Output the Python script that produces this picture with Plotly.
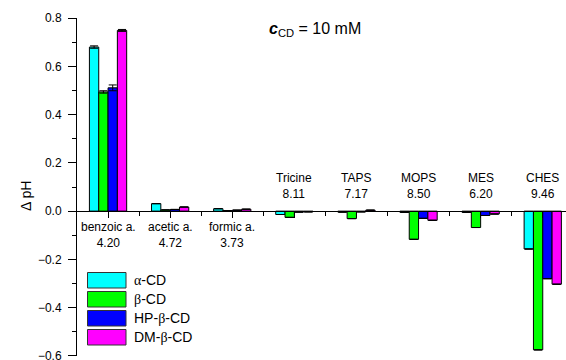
import plotly.graph_objects as go

# Solutes (x categories) with their pKa values
solutes = ["benzoic a.", "acetic a.", "formic a.", "Tricine", "TAPS", "MOPS", "MES", "CHES"]
pka = ["4.20", "4.72", "3.73", "8.11", "7.17", "8.50", "6.20", "9.46"]

# pH shift for each cyclodextrin
alpha_cd = [0.680, 0.031, 0.010, -0.014, -0.004, -0.005, -0.005, -0.157]
beta_cd = [0.494, 0.005, 0.002, -0.026, -0.031, -0.117, -0.068, -0.575]
hp_beta_cd = [0.511, 0.007, 0.004, -0.004, -0.003, -0.030, -0.018, -0.280]
dm_beta_cd = [0.749, 0.017, 0.008, -0.003, 0.004, -0.038, -0.012, -0.303]

# standard deviations (only resolvable for benzoic acid)
alpha_err = [0.005, 0, 0, 0, 0, 0, 0, 0]
beta_err = [0.005, 0, 0, 0, 0, 0, 0, 0]
hp_err = [0.012, 0, 0, 0, 0, 0, 0, 0]
dm_err = [0.004, 0, 0, 0, 0, 0, 0, 0]

series_names = ["α-CD", "β-CD", "HP-β-CD", "DM-β-CD"]
series = [alpha_cd, beta_cd, hp_beta_cd, dm_beta_cd]
errors = [alpha_err, beta_err, hp_err, dm_err]
colors = ["#00FFFF", "#00FF00", "#0000FF", "#FF00FF"]

y_ticks = [-0.6, -0.4, -0.2, 0.0, 0.2, 0.4, 0.6, 0.8]
y_minor = [-0.5, -0.3, -0.1, 0.1, 0.3, 0.5, 0.7]

W, H = 566, 360
ML, MR, MT, MB = 77, 0, 18, 4
PW, PH = W - ML - MR, H - MT - MB
X_PER_CAT = 62.1
x_max = -0.5 + PW / X_PER_CAT
Y_LO, Y_HI = -0.6005, 0.8005

FONT = "Arial, 'Liberation Sans', sans-serif"
SERIF = "'Liberation Serif', 'Times New Roman', serif"


def px(x):
    return (x - ML) / PW


def py(y):
    return (H - MB - y) / PH


def greek(label):
    # Greek letters set in a serif face
    out = ""
    for ch in label:
        if ch in "αβ":
            out += f'<span style="font-family:{SERIF}">{ch}</span>'
        else:
            out += ch
    return out


x_pos = list(range(len(solutes)))

fig = go.Figure()
for name, vals, errs, col in zip(series_names, series, errors, colors):
    fig.add_trace(go.Bar(
        x=x_pos, y=vals, name=name,
        marker=dict(color=col, line=dict(color="black", width=1)),
        error_y=dict(type="data", array=errs, visible=True,
                     color="black", thickness=1, width=4),
        showlegend=False,
    ))

annotations = []
# solute labels: acids below the zero line, buffers above it
for i, (s, k) in enumerate(zip(solutes, pka)):
    below = i < 3
    annotations.append(dict(
        x=i, y=0, xref="x", yref="y",
        text=f"{s}<br>{k}", showarrow=False,
        font=dict(family=FONT, size=12, color="black"),
        yanchor="top" if below else "bottom",
        yshift=-7 if below else 8,
        align="center",
    ))

# concentration label
annotations.append(dict(
    x=px(267), y=py(29), xref="paper", yref="paper",
    xanchor="left", yanchor="middle", showarrow=False,
    text="<i><b>c</b></i><sub>CD</sub> = 10 mM",
    font=dict(family=FONT, size=16, color="black"),
))

# y-axis title
annotations.append(dict(
    x=px(26), y=py(196), xref="paper", yref="paper",
    xanchor="center", yanchor="middle", showarrow=False, textangle=-90,
    text="Δ pH", font=dict(family=FONT, size=14, color="black"),
))

# legend with wide swatches
shapes = []
box_x0, box_x1 = 87.5, 126
box_tops = [272.5, 291.5, 310.5, 329.5]
box_h = 15.5
for name, col, top in zip(series_names, colors, box_tops):
    shapes.append(dict(
        type="rect", xref="paper", yref="paper",
        x0=px(box_x0), x1=px(box_x1), y0=py(top + box_h), y1=py(top),
        fillcolor=col, line=dict(color="#333333", width=1), layer="above",
    ))
    annotations.append(dict(
        x=px(132), y=py(top + box_h / 2), xref="paper", yref="paper",
        xanchor="left", yanchor="middle", showarrow=False,
        text=greek(name), font=dict(family=FONT, size=14, color="black"),
    ))

fig.update_layout(
    width=W, height=H,
    margin=dict(l=ML, r=MR, t=MT, b=MB, pad=0),
    paper_bgcolor="white", plot_bgcolor="white",
    barmode="group", bargap=0.4, bargroupgap=0,
    font=dict(family=FONT, size=12, color="black"),
    annotations=annotations, shapes=shapes,
    showlegend=False,
    xaxis=dict(
        range=[-0.5, x_max], showgrid=False, zeroline=False, automargin=False,
        showline=True, linecolor="black", linewidth=1,
        anchor="free", position=(0 - Y_LO) / (Y_HI - Y_LO),
        tickmode="array", tickvals=x_pos, showticklabels=False,
        ticks="outside", ticklen=6, tickwidth=1, tickcolor="black",
        minor=dict(tickmode="array", tickvals=[i + 0.5 for i in x_pos[:-1]],
                   ticks="outside", ticklen=4, tickwidth=1, tickcolor="black"),
    ),
    yaxis=dict(
        range=[Y_LO, Y_HI], showgrid=False, zeroline=False, automargin=False,
        showline=True, linecolor="black", linewidth=1,
        tickmode="array", tickvals=y_ticks,
        tickformat=".1f", ticklabeloverflow="allow",
        ticks="outside", ticklen=8, tickwidth=1, tickcolor="black",
        ticklabelstandoff=4,
        tickfont=dict(family=FONT, size=12, color="black"),
        minor=dict(tickmode="array", tickvals=y_minor,
                   ticks="outside", ticklen=4, tickwidth=1, tickcolor="black"),
    ),
)

fig.write_html("out.html")
